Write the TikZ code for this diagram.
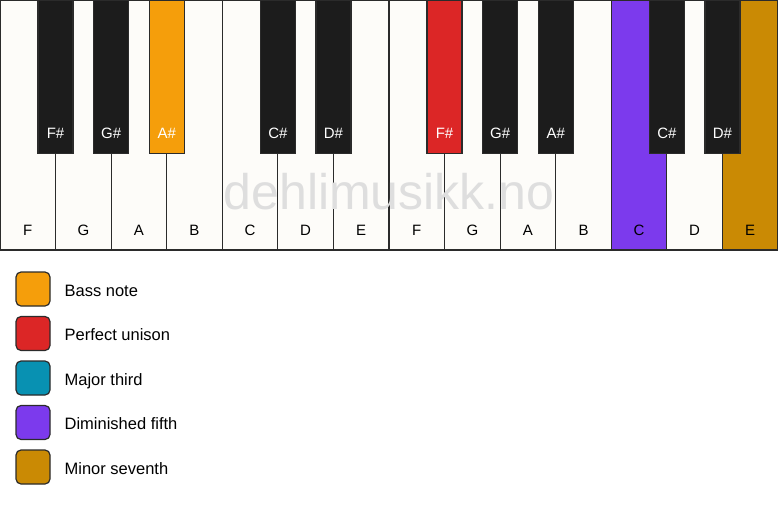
\documentclass[tikz,border=0pt]{standalone}
\usepackage{fontspec}
\setmainfont{Liberation Sans}
\usetikzlibrary{positioning}

\definecolor{ivory}{HTML}{FDFCF9}
\definecolor{keyblack}{HTML}{1C1C1C}
\definecolor{edge}{HTML}{2B2B2B}
\definecolor{bassc}{HTML}{F59E0B}
\definecolor{unisonc}{HTML}{DC2626}
\definecolor{thirdc}{HTML}{0891B2}
\definecolor{fifthc}{HTML}{7C3AED}
\definecolor{seventhc}{HTML}{CA8A04}

\tikzset{
  whitekey/.style={draw=edge,line width=1.2pt,rectangle,minimum width=55.57pt,minimum height=250pt,inner sep=0pt},
  blackkey/.style={draw=edge,line width=1.2pt,rectangle,minimum width=35pt,minimum height=153pt,inner sep=0pt,anchor=north},
  keyname/.style={font=\fontsize{15}{18}\selectfont},
  legendbox/.style={draw=edge,line width=1.2pt,rounded corners=5pt,minimum size=34pt,inner sep=0pt},
  legendtext/.style={font=\fontsize{16.5}{20}\selectfont,text height=15pt,text depth=1pt}
}

\begin{document}
\begin{tikzpicture}[x=1pt,y=-1pt]
	\useasboundingbox (0,0) rectangle (778,506);
	
	% white keys
	\foreach \n/\c [count=\i] in {F/ivory,G/ivory,A/ivory,B/ivory,C/ivory,D/ivory,E/ivory,F/ivory,G/ivory,A/ivory,B/ivory,C/fifthc,D/ivory,E/seventhc}{
		\node[whitekey,fill=\c](w\i)at({(\i-0.5)*55.571},125) {};
		\node[keyname](wl\i)at({(\i-0.5)*55.571},230) {\n};
	}
	
	% black keys
	\foreach \b/\n/\c in {1/F/keyblack,2/G/keyblack,3/A/bassc,5/C/keyblack,6/D/keyblack,8/F/unisonc,9/G/keyblack,10/A/keyblack,12/C/keyblack,13/D/keyblack}{
		\node[blackkey,fill=\c](b\b)at({\b*55.571},0) {};
		\node[keyname,text=white](bl\b)at({\b*55.571},133) {\n\#};
	}
	
	\node[font=\fontsize{50}{56}\selectfont,text=black!13](mark)at(389,192) {dehlimusikk.no};
	
	% legend
	\node[legendbox,fill=bassc](l1)at(33,289) {};
	\node[legendbox,fill=unisonc](l2)at(33,333.5) {};
	\node[legendbox,fill=thirdc](l3)at(33,378) {};
	\node[legendbox,fill=fifthc](l4)at(33,422.5) {};
	\node[legendbox,fill=seventhc](l5)at(33,467) {};
	
	\node[legendtext,right=10.5pt of l1](t1) {Bass note};
	\node[legendtext,right=10.5pt of l2](t2) {Perfect unison};
	\node[legendtext,right=10.5pt of l3](t3) {Major third};
	\node[legendtext,right=10.5pt of l4](t4) {Diminished fifth};
	\node[legendtext,right=10.5pt of l5](t5) {Minor seventh};
\end{tikzpicture}
\end{document}
